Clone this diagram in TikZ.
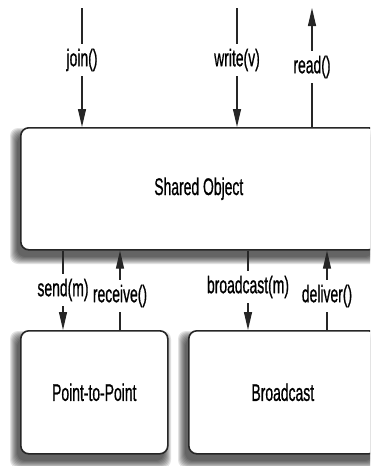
\documentclass[tikz,border=0pt]{standalone}
\usepackage{fontspec}
\setmainfont[FakeBold=1]{Liberation Sans}
\usetikzlibrary{arrows.meta}
\newcommand{\narrowtext}[1]{\scalebox{0.58}[1]{\fontsize{24}{26}\selectfont #1}}
\begin{document}
\begin{tikzpicture}[x=1pt,y=-1pt,
  box/.style={draw=black!85, line width=1.6pt, fill=white, rounded corners=8pt, inner sep=0pt,
    anchor=north west},
  conn/.style={draw=black!85, line width=1.2pt},
  arr/.style={conn, -{Triangle[length=18pt,width=8pt]}},
  lab/.style={fill=white, inner xsep=5pt, inner ysep=5pt},
  shade/.style={fill=black, opacity=0.11}]
\useasboundingbox (0,0) rectangle (370,466);
\clip (0,0) rectangle (370,466);
% shadows
\foreach \r in {0,...,7}{
  \fill[shade, rounded corners=8pt] (17-\r,135-\r) rectangle (373+\r,257+\r);
  \fill[shade, rounded corners=8pt] (17-\r,338-\r) rectangle (164+\r,461+\r);
  \fill[shade, rounded corners=8pt] (185-\r,338-\r) rectangle (373+\r,461+\r);
}
% boxes
\node[box, minimum width=356pt, minimum height=122pt] (so) at (20,127) {\narrowtext{Shared Object}};
\node[box, minimum width=147pt, minimum height=123pt] (ptp) at (20,330) {\narrowtext{Point-to-Point}};
\node[box, minimum width=188pt, minimum height=123pt] (bc) at (188,330) {\narrowtext{Broadcast}};
% labels
\node[lab] (jl) at (82,60) {\narrowtext{join()}};
\node[lab] (wl) at (237,60) {\narrowtext{write(v)}};
\node[lab] (rl) at (312,67) {\narrowtext{read()}};
\node[lab] (sl) at (63,290) {\narrowtext{send(m)}};
\node[lab] (rcl) at (120,296) {\narrowtext{receive()}};
\node[lab] (bl) at (248,287) {\narrowtext{broadcast(m)}};
\node[lab] (dl) at (327,296) {\narrowtext{deliver()}};
% free ends
\coordinate (jtop) at (82,8);
\coordinate (wtop) at (237,8);
\coordinate (rtop) at (312,8);
% connectors
\draw[conn] (jtop) -- (jl.north);
\draw[arr] (jl.south) -- (so.north -| jl);
\draw[conn] (wtop) -- (wl.north);
\draw[arr] (wl.south) -- (so.north -| wl);
\draw[conn] (so.north -| rl) -- (rl.south);
\draw[arr] (rl.north) -- (rtop);
\draw[conn] (so.south -| sl) -- (sl.north);
\draw[arr] (sl.south) -- (ptp.north -| sl);
\draw[conn] (ptp.north -| rcl) -- (rcl.south);
\draw[arr] (rcl.north) -- (so.south -| rcl);
\draw[conn] (so.south -| bl) -- (bl.north);
\draw[arr] (bl.south) -- (bc.north -| bl);
\draw[conn] (bc.north -| dl) -- (dl.south);
\draw[arr] (dl.north) -- (so.south -| dl);
\end{tikzpicture}
\end{document}
